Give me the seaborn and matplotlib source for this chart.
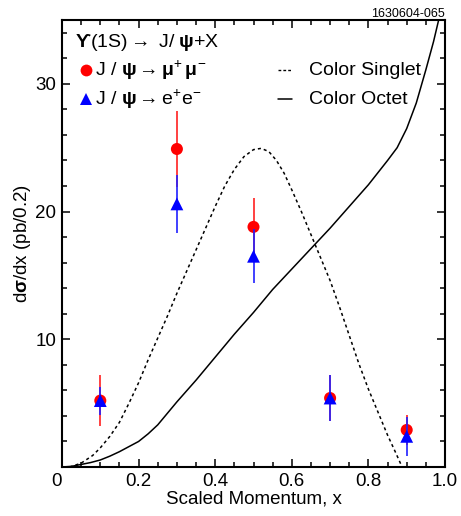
import matplotlib
matplotlib.use('Agg')
import matplotlib.pyplot as plt
from matplotlib.ticker import MultipleLocator
import seaborn as sns

# measured points, x = scaled momentum
x_pts = [0.1, 0.3, 0.5, 0.7, 0.9]
mumu_y = [5.2, 24.9, 18.8, 5.4, 2.9]
mumu_err = [2.0, 3.0, 2.3, 1.8, 1.2]
ee_y = [5.2, 20.6, 16.5, 5.4, 2.4]
ee_err = [1.1, 2.3, 2.1, 1.8, 1.5]

# theory curves
singlet_x = [0.02, 0.05, 0.08, 0.1, 0.125, 0.15, 0.175, 0.2, 0.225, 0.25, 0.275, 0.3,
             0.325, 0.35, 0.375, 0.4, 0.425, 0.45, 0.475, 0.5, 0.52, 0.54, 0.56, 0.58,
             0.6, 0.625, 0.65, 0.675, 0.7, 0.725, 0.75, 0.775, 0.8, 0.825, 0.85, 0.87, 0.888]
singlet_y = [0.0, 0.3, 0.9, 1.5, 2.4, 3.5, 5.0, 6.6, 8.4, 10.1, 11.8, 13.6,
             15.3, 17.0, 18.7, 20.4, 22.0, 23.3, 24.3, 24.85, 24.95, 24.7, 24.0, 23.0,
             21.7, 20.0, 18.2, 16.4, 14.6, 12.5, 10.3, 8.1, 6.1, 4.3, 2.5, 1.2, 0.0]
octet_x = [0.0, 0.025, 0.05, 0.075, 0.1, 0.125, 0.15, 0.175, 0.2, 0.225, 0.25, 0.275,
           0.3, 0.35, 0.4, 0.45, 0.5, 0.55, 0.6, 0.65, 0.7, 0.75, 0.8, 0.85,
           0.875, 0.9, 0.925, 0.95, 0.97, 0.985, 0.995]
octet_y = [0.0, 0.05, 0.2, 0.35, 0.55, 0.85, 1.2, 1.6, 2.0, 2.6, 3.3, 4.2,
           5.1, 6.8, 8.6, 10.4, 12.1, 13.9, 15.5, 17.1, 18.7, 20.4, 22.1, 24.0,
           25.0, 26.5, 28.5, 31.1, 33.3, 35.2, 36.5]

xtick_vals = [0, 0.2, 0.4, 0.6, 0.8, 1.0]
xtick_labels = ['0', '0.2', '0.4', '0.6', '0.8', '1.0']
ytick_vals = [0, 10, 20, 30]
ytick_labels = ['', '10', '20', '30']

sns.set_style('ticks')
plt.rcParams['font.family'] = ['Liberation Sans', 'DejaVu Sans']
plt.rcParams['mathtext.fontset'] = 'custom'
plt.rcParams['mathtext.rm'] = 'Liberation Sans'
plt.rcParams['mathtext.it'] = 'Liberation Sans:italic'
plt.rcParams['mathtext.bf'] = 'Liberation Sans:bold'
plt.rcParams['mathtext.fallback'] = 'stix'
for k in ['text.color', 'axes.labelcolor', 'xtick.color', 'ytick.color', 'axes.edgecolor']:
    plt.rcParams[k] = 'black'

fig = plt.figure(figsize=(4.61, 5.16), dpi=100)
ax = fig.add_axes([62/461, 49/516, 383/461, 447/516])

sns.lineplot(x=singlet_x, y=singlet_y, ax=ax, color='black', linewidth=1.1,
             linestyle=(0, (2, 2)), sort=False)
sns.lineplot(x=octet_x, y=octet_y, ax=ax, color='black', linewidth=1.1, sort=False)

ax.errorbar(x_pts, mumu_y, yerr=mumu_err, fmt='none', ecolor='#ff2020', elinewidth=1.2, capsize=0, zorder=3)
sns.scatterplot(x=x_pts, y=mumu_y, ax=ax, marker='o', color='red', s=75, edgecolor='none', zorder=4)
ax.errorbar(x_pts, ee_y, yerr=ee_err, fmt='none', ecolor='#2020ff', elinewidth=1.2, capsize=0, zorder=5)
sns.scatterplot(x=x_pts, y=ee_y, ax=ax, marker='^', color='blue', s=85, edgecolor='none', zorder=6)

ax.set_xlim(0, 1.0)
ax.set_ylim(0, 35)
ax.set_xticks(xtick_vals)
ax.set_xticklabels(xtick_labels)
ax.set_yticks(ytick_vals)
ax.set_yticklabels(ytick_labels)
ax.xaxis.set_minor_locator(MultipleLocator(0.05))
ax.yaxis.set_minor_locator(MultipleLocator(2))
ax.tick_params(which='both', direction='in', top=True, right=True, width=1.1, labelsize=13.5, pad=4)
ax.tick_params(which='major', length=6)
ax.tick_params(which='minor', length=3.5)
for s in ax.spines.values():
    s.set_visible(True)
    s.set_linewidth(1.5)
# the lone "0" sits a little left of the corner
ax.get_xticklabels()[0].set_horizontalalignment('right')

ax.set_xlabel('Scaled Momentum, x', fontsize=13.5, labelpad=1)
ax.set_ylabel(r'd$\mathbf{σ}$/dx (pb/0.2)', fontsize=13.5, labelpad=1.5)

# hand-made legend
fs = 14
ax.text(0.034, 0.949, r'$\mathbf{ϒ}$(1S)$\rightarrow$ J/ $\mathbf{ψ}$+X',
        transform=ax.transAxes, fontsize=fs, va='center')
ax.plot([0.063], [0.888], 'o', color='red', markersize=8.5, markeredgewidth=0, transform=ax.transAxes)
ax.text(0.086, 0.888, r'J / $\mathbf{ψ}\rightarrow\mathbf{μ}^{+}\,\mathbf{μ}^{-}$',
        transform=ax.transAxes, fontsize=fs, va='center')
ax.plot([0.063], [0.823], '^', color='blue', markersize=8.5, markeredgewidth=0, transform=ax.transAxes)
ax.text(0.086, 0.823, r'J / $\mathbf{ψ}\rightarrow\mathrm{e}^{+}\mathrm{e}^{-}$',
        transform=ax.transAxes, fontsize=fs, va='center')
ax.plot([0.564, 0.601], [0.888, 0.888], color='black', linewidth=1.0, linestyle=(0, (2, 1.5)),
        transform=ax.transAxes)
ax.text(0.645, 0.888, 'Color Singlet', transform=ax.transAxes, fontsize=fs, va='center')
ax.plot([0.564, 0.601], [0.823, 0.823], color='black', linewidth=1.1, transform=ax.transAxes)
ax.text(0.645, 0.823, 'Color Octet', transform=ax.transAxes, fontsize=fs, va='center')

fig.text(445/461, 1 - 14/516, '1630604-065', ha='right', va='center', fontsize=9)

fig.savefig('out.png', dpi=100)
